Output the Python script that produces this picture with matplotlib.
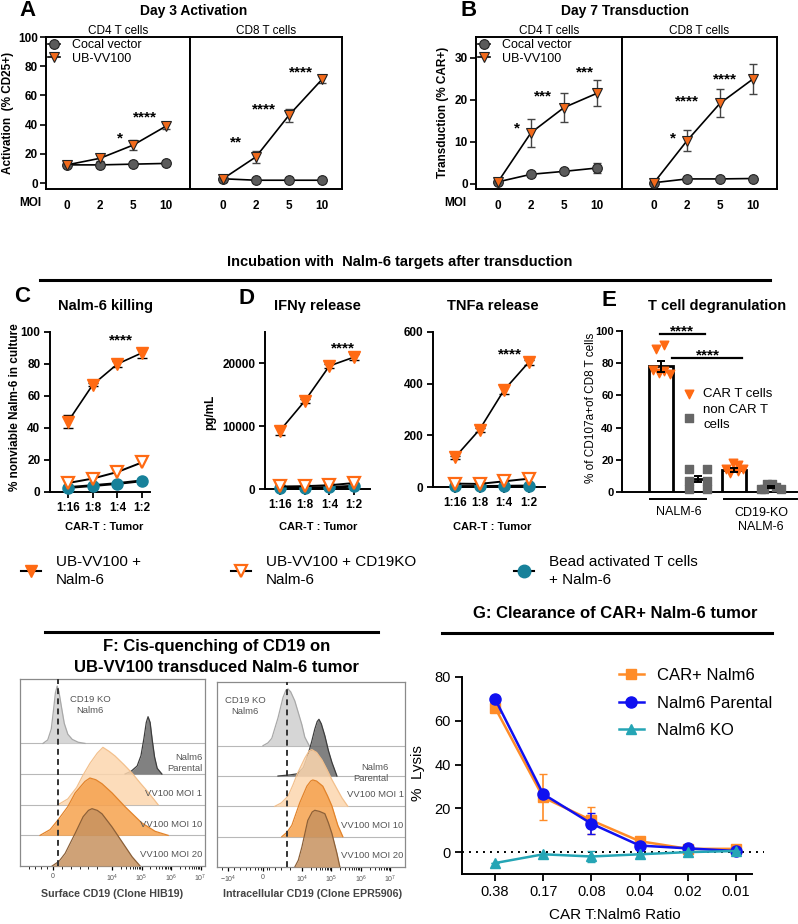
import matplotlib
matplotlib.use('Agg')
import matplotlib.pyplot as plt
from matplotlib.lines import Line2D
import numpy as np

plt.rcParams['font.family'] = ['Liberation Sans', 'DejaVu Sans']
plt.rcParams['axes.linewidth'] = 1.4
plt.rcParams['mathtext.default'] = 'regular'

W, H = 798, 924

# ---------------- data ----------------
moi = ['0', '2', '5', '10']

# A: day 3 activation (% CD25+)
act_cd4_cocal = [12.5, 12.5, 13, 13.5]
act_cd4_ub = [12.5, 17, 26, 39]
act_cd4_ub_err = [1, 2, 3.5, 2]
act_cd8_cocal = [3, 2, 2, 2]
act_cd8_ub = [3, 18, 46.5, 71]
act_cd8_ub_err = [2, 4, 4.5, 2.5]
act_cd4_stars = [(1.6, 34, '*'), (2.36, 48, '****')]
act_cd8_stars = [(0.4, 31.5, '**'), (1.24, 54, '****'), (2.36, 79, '****')]

# B: day 7 transduction (% CAR+)
trd_cd4_cocal = [0.5, 2.3, 3.0, 3.8]
trd_cd4_cocal_err = [0.2, 0.3, 0.3, 1.3]
trd_cd4_ub = [0.5, 12.2, 18.2, 21.6]
trd_cd4_ub_err = [0.3, 3.3, 3.5, 3.1]
trd_cd8_cocal = [0.3, 1.2, 1.2, 1.3]
trd_cd8_ub = [0.3, 10.3, 19.2, 25]
trd_cd8_ub_err = [0.2, 2.5, 3.3, 3.6]
trd_cd4_stars = [(0.58, 14.3, '*'), (1.36, 22, '***'), (2.64, 27.6, '***')]
trd_cd8_stars = [(0.58, 12, '*'), (1.0, 20.7, '****'), (2.15, 26, '****')]

# C / D
ratio = ['1:16', '1:8', '1:4', '1:2']
kill_ub = [44, 67, 80, 87]
kill_ub_err = [4, 1, 2, 3]
kill_ko = [5.6, 8.4, 12.5, 18.5]
kill_bead = [2.8, 4, 5.3, 7]
ifn_ub = [9300, 14000, 19600, 21000]
ifn_ub_err = [700, 300, 300, 500]
ifn_ko = [400, 450, 600, 950]
ifn_bead = [100, 150, 250, 450]
tnf_ub = [115, 222, 375, 482]
tnf_ub_err = [5, 8, 15, 8]
tnf_ko = [13, 12, 22, 32]
tnf_bead = [2, 2, 3, 4]

# E: degranulation
degran_mean = [78, 8, 13.5, 3]
degran_err = [3.5, 2, 1.2, 0.8]
degran_car_nalm6 = [89, 91, 76, 74, 75, 73]
degran_non_nalm6 = [14, 14, 7, 7, 2, 2]
degran_car_ko = [12, 17, 14, 18, 13, 14]
degran_non_ko = [2, 5, 5, 3, 2, 2]

# F: flow histograms, (position on log display axis, relative height)
surf_ko = ([1.66, 1.82, 1.94, 2.02, 2.08, 2.14, 2.2, 2.28, 2.38, 2.5, 2.65, 2.85, 3.08],
           [0, .06, .25, .6, .88, 1, .9, .65, .35, .16, .07, .02, 0])
surf_par = ([4.44, 4.65, 4.85, 4.98, 5.08, 5.16, 5.22, 5.29, 5.36, 5.44, 5.53, 5.69],
            [0, .05, .14, .32, .62, .9, 1, .9, .6, .3, .1, 0])
surf_moi1 = ([2.17, 2.5, 2.8, 3.0, 3.25, 3.5, 3.69, 3.9, 4.1, 4.4, 4.68, 4.95, 5.22, 5.56],
             [0, .1, .3, .5, .72, .9, 1, .93, .85, .7, .55, .38, .22, 0])
surf_moi10 = ([1.56, 1.9, 2.17, 2.5, 2.75, 3.08, 3.25, 3.45, 3.66, 4.0, 4.44, 5.0, 5.46, 5.9],
              [0, .1, .27, .5, .74, .94, 1, .97, .9, .74, .5, .22, .07, 0])
surf_moi20 = ([1.97, 2.2, 2.41, 2.75, 3.02, 3.2, 3.32, 3.5, 3.66, 4.0, 4.34, 4.68, 4.95],
              [0, .08, .22, .57, .86, .97, 1, .97, .91, .68, .42, .16, 0])
intra_ko = ([2.68, 2.85, 2.98, 3.19, 3.36, 3.46, 3.53, 3.62, 3.76, 3.88, 4.0, 4.1, 4.25],
            [0, .05, .13, .49, .85, .98, 1, .95, .79, .58, .37, .15, 0])
intra_par = ([3.19, 3.6, 3.86, 4.05, 4.2, 4.33, 4.44, 4.52, 4.58, 4.66, 4.78, 4.9, 5.02, 5.19],
             [0, .02, .04, .15, .36, .6, .83, .96, 1, .92, .71, .45, .24, 0])
intra_moi1 = ([3.08, 3.3, 3.53, 3.7, 3.86, 4.1, 4.25, 4.34, 4.5, 4.68, 4.85, 5.02, 5.2, 5.36, 5.56],
              [0, .06, .18, .38, .59, .85, .98, 1, .95, .82, .65, .47, .3, .15, 0])
intra_moi10 = ([3.32, 3.5, 3.66, 3.93, 4.17, 4.3, 4.37, 4.5, 4.71, 4.87, 5.02, 5.22, 5.39],
               [0, .08, .2, .6, .89, .98, 1, .98, .89, .72, .54, .2, 0])
intra_moi20 = ([3.76, 3.88, 4.0, 4.2, 4.35, 4.44, 4.6, 4.78, 4.9, 5.02, 5.19, 5.29],
               [0, .12, .35, .82, .97, 1, .98, .94, .78, .59, .24, 0])
flow_names = ['CD19 KO\nNalm6', 'Nalm6\nParental', 'VV100 MOI 1', 'VV100 MOI 10', 'VV100 MOI 20']

# G: lysis
ratio_g = ['0.38', '0.17', '0.08', '0.04', '0.02', '0.01']
lysis_car = [66, 25, 14.5, 5, 1.5, 1.5]
lysis_car_err = [0, 10.5, 6, 0, 0, 0]
lysis_par = [70, 26.5, 13, 3, 1.7, 0.5]
lysis_par_err = [0, 0, 4.8, 0, 0, 0]
lysis_ko = [-5, -1, -2, -1, 0, 0.5]
lysis_ko_err = [0, 0, 2.5, 0, 0, 0]

ORANGE = '#ff6a13'
ORANGE_A = '#f26a1b'
TEAL = '#17819a'
GRAY = '#5b5b5b'

fig = plt.figure(figsize=(W / 100, H / 100), dpi=100)


def px_axes(x0, y0, x1, y1):
    return fig.add_axes([x0 / W, 1 - y1 / H, (x1 - x0) / W, (y1 - y0) / H])


def ftext(x, y, s, **kw):
    kw.setdefault('ha', 'center')
    kw.setdefault('va', 'center')
    return fig.text(x / W, 1 - y / H, s, **kw)


def hline(x0, x1, y, lw=2.2):
    fig.add_artist(Line2D([x0 / W, x1 / W], [1 - y / H] * 2, color='k', lw=lw,
                          transform=fig.transFigure))


def bold_ticks(ax, size=8.5):
    for t in ax.get_xticklabels() + ax.get_yticklabels():
        t.set_fontweight('bold')
        t.set_fontsize(size)


def stars(ax, items, fs=11):
    for x, y, s in items:
        ax.annotate(s, (x, y), xytext=(0, -0.58 * fs), textcoords='offset points',
                    ha='center', va='baseline', fontsize=fs, fontweight='bold',
                    annotation_clip=False)


# ---------------- A and B ----------------
def moi_panel(xl, xm, xr, yt, yb, firsts, step, ylim, yticks, subs):
    for k, (x0, x1) in enumerate([(xl, xm), (xm, xr)]):
        cocal, cocal_err, ub, ub_err, title, st = subs[k]
        ax = px_axes(x0, yt, x1, yb)
        ax.set_xlim((x0 - firsts[k]) / step, (x1 - firsts[k]) / step)
        ax.set_ylim(*ylim)
        xs = np.arange(len(moi))
        if cocal_err is not None:
            ax.errorbar(xs, cocal, yerr=cocal_err, fmt='none', ecolor='#444', elinewidth=1,
                        capsize=3, clip_on=False, zorder=2)
        ax.errorbar(xs, ub, yerr=ub_err, fmt='none', ecolor='#444', elinewidth=1,
                    capsize=3, clip_on=False, zorder=2)
        ax.plot(xs, cocal, color='k', lw=1.2, marker='o', ms=7, mfc=GRAY, mec='#222',
                mew=0.8, clip_on=False, label='Cocal vector', zorder=3)
        ax.plot(xs, ub, color='k', lw=1.2, marker='v', ms=7.5, mfc=ORANGE_A, mec='#222',
                mew=0.8, clip_on=False, label='UB-VV100', zorder=4)
        stars(ax, st)
        ax.set_xticks(xs)
        ax.set_xticklabels(moi)
        ax.tick_params(axis='x', length=0, pad=8)
        if k == 0:
            ax.set_yticks(yticks)
            ax.tick_params(axis='y', length=4, width=1.2, pad=2)
            ax.legend(loc='upper left', bbox_to_anchor=(0, 1.0), frameon=False,
                      fontsize=9, handlelength=1.0, handletextpad=0.9,
                      borderpad=0.1, borderaxespad=0.05, labelspacing=0.15)
        else:
            ax.set_yticks([])
        ax.set_title(title, fontsize=8.5, pad=1.5)
        bold_ticks(ax)


moi_panel(46, 190, 342, 37, 189, (67, 223), 33, (-4, 100), [0, 20, 40, 60, 80, 100],
          [(act_cd4_cocal, None, act_cd4_ub, act_cd4_ub_err, 'CD4 T cells', act_cd4_stars),
           (act_cd8_cocal, None, act_cd8_ub, act_cd8_ub_err, 'CD8 T cells', act_cd8_stars)])
moi_panel(476, 622, 777, 37, 189, (498, 654), 33, (-1.2, 35), [0, 10, 20, 30],
          [(trd_cd4_cocal, trd_cd4_cocal_err, trd_cd4_ub, trd_cd4_ub_err, 'CD4 T cells', trd_cd4_stars),
           (trd_cd8_cocal, None, trd_cd8_ub, trd_cd8_ub_err, 'CD8 T cells', trd_cd8_stars)])

ftext(28, 11, 'A', fontsize=16, fontweight='bold')
ftext(194, 11, 'Day 3 Activation', fontsize=10, fontweight='bold')
ftext(30, 203, 'MOI', fontsize=8.5, fontweight='bold')
ftext(8, 113, 'Activation  (% CD25+)', fontsize=8.5, fontweight='bold', rotation=90)
ftext(469, 10, 'B', fontsize=16, fontweight='bold')
ftext(625, 11, 'Day 7 Transduction', fontsize=10, fontweight='bold')
ftext(455, 203, 'MOI', fontsize=8.5, fontweight='bold')
ftext(443, 112, 'Transduction (% CAR+)', fontsize=8.5, fontweight='bold', rotation=90)

# ---------------- section header ----------------
ftext(400, 262, 'Incubation with  Nalm-6 targets after transduction', fontsize=10.5,
      fontweight='bold')
hline(40, 770, 280)


# ---------------- C and D ----------------
def ratio_panel(x0, x1, yt, yb, first, step, ylim, yticks, ub, ub_err, ko, bead, st):
    ax = px_axes(x0, yt, x1, yb)
    ax.set_xlim((x0 - first) / step, (x1 - first) / step)
    ax.set_ylim(*ylim)
    xs = np.arange(len(ratio))
    ax.plot(xs, bead, color='k', lw=2, marker='o', ms=8, mfc=TEAL, mec=TEAL,
            clip_on=False, zorder=3)
    ax.plot(xs, ko, color='k', lw=1.4, marker='v', ms=8.5, mfc='white', mec=ORANGE,
            mew=1.6, clip_on=False, zorder=4)
    ax.errorbar(xs, ub, yerr=ub_err, color='k', lw=1.2, marker='v', ms=9, mfc=ORANGE,
                mec=ORANGE, ecolor='k', elinewidth=1.2, capsize=3.5, clip_on=False, zorder=5)
    stars(ax, st)
    for s in ['top', 'right']:
        ax.spines[s].set_visible(False)
    ax.set_xticks(xs)
    ax.set_xticklabels(ratio)
    ax.set_yticks(yticks)
    ax.tick_params(length=4, width=1.3, pad=3)
    bold_ticks(ax)
    return ax


ratio_panel(50, 150, 332, 492, 68, 24.7, (0, 100), [0, 20, 40, 60, 80, 100],
            kill_ub, kill_ub_err, kill_ko, kill_bead, [(2.16, 97.5, '****')])
ratio_panel(265, 370, 332, 489, 280, 24.7, (0, 25000), [0, 10000, 20000],
            ifn_ub, ifn_ub_err, ifn_ko, ifn_bead, [(2.55, 23200, '****')])
ratio_panel(433, 545, 332, 487, 455, 24.5, (0, 600), [0, 200, 400, 600],
            tnf_ub, tnf_ub_err, tnf_ko, tnf_bead, [(2.25, 530, '****')])

ftext(22, 297, 'C', fontsize=16, fontweight='bold')
ftext(106, 306, 'Nalm-6 killing', fontsize=10.5, fontweight='bold')
ftext(15, 407, '% nonviable Nalm-6 in culture', fontsize=8.5, fontweight='bold', rotation=90)
ftext(247, 298, 'D', fontsize=16, fontweight='bold')
ftext(317, 306, 'IFN\u03b3 release', fontsize=10.5, fontweight='bold')
ftext(210, 412, 'pg/mL', fontsize=8.5, fontweight='bold', rotation=90)
ftext(493, 306, 'TNFa release', fontsize=10.5, fontweight='bold')
for cx in [104, 318, 492]:
    ftext(cx, 527, 'CAR-T : Tumor', fontsize=8, fontweight='bold')

# ---------------- E ----------------
axe = px_axes(622, 331, 797, 492)
axe.set_xlim(-1.05, 3.7)
axe.set_ylim(0, 100)
bx = np.arange(4)
axe.bar(bx, degran_mean, width=0.65, color='white', edgecolor='k', lw=2, zorder=2)
axe.errorbar(bx, degran_mean, yerr=degran_err, fmt='none', ecolor='k', elinewidth=1.4,
             capsize=3, capthick=1.4, zorder=4)
tri_jit = np.array([-0.12, 0.1, -0.22, -0.05, 0.1, 0.24])
sq_jit = np.array([-0.22, 0.26, -0.22, 0.26, -0.22, 0.26])
ko_sq_jit = np.array([-0.28, -0.12, 0.02, 0.14, 0.27, -0.2])
axe.scatter(bx[0] + tri_jit, degran_car_nalm6, marker='v', s=38, color=ORANGE, zorder=3,
            clip_on=False, label='CAR T cells')
axe.scatter(bx[1] + sq_jit, degran_non_nalm6, marker='s', s=30, color='#666666', zorder=3,
            clip_on=False, label='non CAR T\ncells')
axe.scatter(bx[2] + tri_jit, degran_car_ko, marker='v', s=38, color=ORANGE, zorder=3,
            clip_on=False)
axe.scatter(bx[3] + ko_sq_jit, degran_non_ko, marker='s', s=30, color='#666666', zorder=3,
            clip_on=False)
for s in ['top', 'right']:
    axe.spines[s].set_visible(False)
axe.set_xticks([])
axe.set_yticks([0, 20, 40, 60, 80, 100])
axe.tick_params(length=4, width=1.3, pad=2)
bold_ticks(axe, 8)
axe.plot([-0.03, 1.19], [98, 98], color='k', lw=1.6, clip_on=False)
axe.plot([0.32, 2.22], [83, 83], color='k', lw=1.6, clip_on=False)
stars(axe, [(0.58, 102.5, '****'), (1.27, 88, '****')])
tr = axe.get_xaxis_transform()
axe.plot([-0.3, 1.24], [-0.045, -0.045], color='k', lw=1.4, transform=tr, clip_on=False)
axe.plot([1.73, 3.7], [-0.045, -0.045], color='k', lw=1.4, transform=tr, clip_on=False)
axe.text(0.5, -0.125, 'NALM-6', transform=tr, ha='center', va='center', fontsize=9)
axe.text(2.72, -0.175, 'CD19-KO\nNALM-6', transform=tr, ha='center', va='center',
         fontsize=9, linespacing=1.25)
axe.legend(loc='upper left', bbox_to_anchor=(0.345, 0.645), frameon=False,
           handlelength=1.0, handletextpad=0.6, borderpad=0, borderaxespad=0,
           labelspacing=0.25, scatterpoints=1, prop={'size': 9.5})
for t in axe.get_legend().get_texts():
    t.set_linespacing(1.35)
ftext(609, 300, 'E', fontsize=16, fontweight='bold')
ftext(717, 306, 'T cell degranulation', fontsize=10.5, fontweight='bold')
ftext(591, 408, '% of CD107a+of CD8 T cells', fontsize=8.5, rotation=90)

# ---------------- legend row ----------------
leg_items = [
    (Line2D([], [], color='k', lw=1.5, marker='v', ms=9, mfc=ORANGE, mec=ORANGE),
     'UB-VV100 +\nNalm-6', 21),
    (Line2D([], [], color='k', lw=1.5, marker='v', ms=9, mfc='white', mec=ORANGE, mew=1.6),
     'UB-VV100 + CD19KO\nNalm-6', 231),
    (Line2D([], [], color='k', lw=1.5, marker='o', ms=9, mfc=TEAL, mec=TEAL),
     'Bead activated T cells\n+ Nalm-6', 514),
]
for handle, lab, lx in leg_items:
    lg = fig.legend(handles=[handle], labels=[lab], loc='center left',
                    bbox_to_anchor=(lx / W, 1 - 571 / H), frameon=False, fontsize=11,
                    handlelength=1.3, handletextpad=1.0, borderpad=0, borderaxespad=0)
    for t in lg.get_texts():
        t.set_linespacing(1.45)

# ---------------- F ----------------
flow_fill = ['#cfcfcf', '#6b6b6b', '#fcd6ae', '#f6a24e', '#c7925f']
flow_edge = ['#a8a8a8', '#3d3d3d', '#f3c08c', '#e2832a', '#8c6038']
flow_rows = [4, 3, 2, 1, 0]


def flow_box(x0, x1, yt, yb, xlim, curves, dash_x, lab_pos, ticks, ticklabels, minor):
    ax = px_axes(x0, yt, x1, yb)
    ax.set_xlim(*xlim)
    ax.set_ylim(0, 6.1)
    for row, (xs, hs), fc, ec in zip(flow_rows, curves, flow_fill, flow_edge):
        ys = row + np.array(hs) * 1.87
        ax.fill_between(xs, row, ys, color=fc, alpha=0.85, lw=0, zorder=2 + (4 - row))
        ax.plot(xs, ys, color=ec, lw=0.9, zorder=2 + (4 - row))
        if row > 0:
            ax.axhline(row, color='#b8b8b8', lw=0.8, zorder=1)
    ax.axvline(dash_x, color='#333333', ls=(0, (3, 2.2)), lw=1.4, zorder=10)
    for (tx, ty, ha), name in zip(lab_pos, flow_names):
        ax.text(tx, ty, name, ha=ha, va='center', fontsize=6.8, color='#555555',
                linespacing=1.3, zorder=11)
    for s in ax.spines.values():
        s.set_color('#8a8a8a')
        s.set_linewidth(0.9)
    ax.set_yticks([])
    ax.set_xticks(ticks)
    ax.set_xticklabels(ticklabels, fontsize=5, color='#555555')
    ax.set_xticks(minor, minor=True)
    ax.tick_params(axis='x', which='major', length=3, width=0.9, pad=2)
    ax.tick_params(axis='x', which='minor', length=1.8, width=0.6)
    return ax


dec_minor = [d + np.log10(m) for d in (4, 5, 6) for m in range(2, 10)]
flow_box(20, 205, 679, 866, (0.88, 7.15),
         [surf_ko, surf_par, surf_moi1, surf_moi10, surf_moi20], 2.17,
         [(3.25, 5.25, 'center'), (7.05, 3.35, 'right'), (7.05, 2.35, 'right'),
          (7.05, 1.36, 'right'), (7.05, 0.36, 'right')],
         [2, 4, 5, 6, 7], ['0', '$10^4$', '$10^5$', '$10^6$', '$10^7$'],
         [1.2, 1.4, 1.6, 1.8, 2.3, 2.6, 2.9, 3.2, 3.5] + dec_minor)
flow_box(217, 405, 682, 867, (1.12, 7.5),
         [intra_ko, intra_par, intra_moi1, intra_moi10, intra_moi20], 3.49,
         [(2.07, 5.3, 'center'), (6.95, 3.1, 'right'), (7.45, 2.4, 'right'),
          (7.45, 1.38, 'right'), (7.45, 0.38, 'right')],
         [1.5, 2.68, 4, 5, 6, 7], ['$-10^4$', '0', '$10^4$', '$10^5$', '$10^6$', '$10^7$'],
         [1.3, 1.7, 1.9, 2.1, 2.25, 2.4, 2.5, 2.6, 2.8, 2.9, 3.1, 3.3, 3.6] + dec_minor)
hline(45, 378, 632)
ftext(217, 647, 'F: Cis-quenching of CD19 on', fontsize=12, fontweight='bold')
ftext(217, 668, 'UB-VV100 transduced Nalm-6 tumor', fontsize=12, fontweight='bold')
ftext(112, 894, 'Surface CD19 (Clone HIB19)', fontsize=7.7, fontweight='bold', color='#444444')
ftext(313, 894, 'Intracellular CD19 (Clone EPR5906)', fontsize=7.7, fontweight='bold',
      color='#444444')

# ---------------- G ----------------
axg = px_axes(462, 677, 752, 874)
axg.set_xlim(-0.685, 5.33)
axg.set_ylim(-10, 80)
gx = np.arange(len(ratio_g))
axg.axhline(0, xmin=0, xmax=1.04, color='k', ls=(0, (1, 2.6)), lw=1.4, clip_on=False, zorder=1)
for vals, errs, col, mk, ms, lab, z in [
        (lysis_car, lysis_car_err, '#ff8c28', 's', 7, 'CAR+ Nalm6', 3),
        (lysis_par, lysis_par_err, '#1010f0', 'o', 8, 'Nalm6 Parental', 4),
        (lysis_ko, lysis_ko_err, '#25a5b5', '^', 7, 'Nalm6 KO', 5)]:
    axg.errorbar(gx, vals, yerr=errs, fmt='none', ecolor=col, capsize=3, elinewidth=1.2,
                 clip_on=False, zorder=z)
    axg.plot(gx, vals, color=col, lw=1.8, marker=mk, ms=ms, label=lab, clip_on=False,
             zorder=z)
for s in ['top', 'right']:
    axg.spines[s].set_visible(False)
axg.set_xticks(gx)
axg.set_xticklabels(ratio_g)
axg.set_yticks([0, 20, 40, 60, 80])
axg.tick_params(labelsize=10.5, length=5, width=1.3, pad=3)
axg.legend(loc='upper left', bbox_to_anchor=(0.54, 1.045), frameon=False, fontsize=12,
           handlelength=1.5, handletextpad=0.8, labelspacing=0.75, borderpad=0,
           borderaxespad=0)
ftext(418, 773, '%  Lysis', fontsize=11, rotation=90)
ftext(615, 915, 'CAR T:Nalm6 Ratio', fontsize=11)
ftext(615, 613, 'G: Clearance of CAR+ Nalm-6 tumor', fontsize=12, fontweight='bold')
hline(442, 772, 633)

fig.savefig('out.png', dpi=100)
